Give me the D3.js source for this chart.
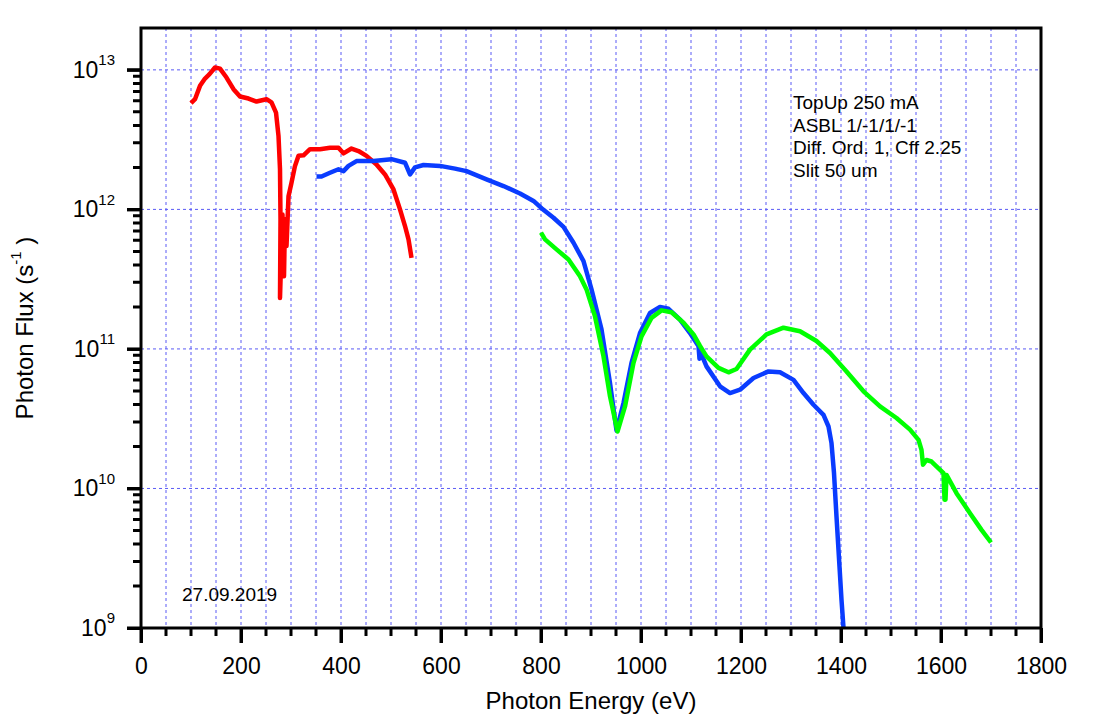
<!DOCTYPE html>
<html>
<head>
<meta charset="utf-8">
<script src="https://cdn.jsdelivr.net/npm/d3@7"></script>
<style>
  body { margin: 0; background: #fff; color: #000; }
  text { font-family: "Liberation Sans", Arial, sans-serif; fill: #000; }
</style>
</head>
<body>
<div id="chart"></div>
<script>
// photon energy (eV) and flux (1/s)
const redE = [100,108,118,128,137,148,158,171,185,198,215,231,251,261,270,275,278,279,278,283,286,288,291,295,301,308,315,325,338,358,378,395,405,421,435,451,471,488,505,518,528,535,541];
const redFlux = [5.77e12,6.16e12,7.68e12,8.67e12,9.31e12,1.04e13,1.02e13,8.81e12,7.27e12,6.44e12,6.23e12,5.93e12,6.16e12,5.84e12,4.94e12,3.36e12,1.94e12,8.47e11,2.32e11,9.2e11,3.32e11,8.5e11,5.46e11,1.24e12,1.55e12,2.05e12,2.42e12,2.44e12,2.7e12,2.7e12,2.77e12,2.77e12,2.52e12,2.73e12,2.62e12,2.42e12,2.1e12,1.78e12,1.39e12,1.0e12,7.6e11,6.1e11,4.5e11];

const blueE = [351,361,378,395,405,415,431,465,501,528,538,548,565,598,628,651,691,725,758,785,801,825,845,865,885,901,921,938,951,965,981,998,1018,1038,1055,1078,1098,1111,1115,1117,1119,1131,1158,1178,1198,1225,1255,1278,1305,1325,1345,1365,1375,1381,1386,1391,1397,1401,1405];
const blueFlux = [1.72e12,1.72e12,1.83e12,1.94e12,1.88e12,2.05e12,2.22e12,2.22e12,2.29e12,2.16e12,1.78e12,2.0e12,2.08e12,2.05e12,1.96e12,1.88e12,1.64e12,1.47e12,1.30e12,1.15e12,1.02e12,8.71e11,7.5e11,5.77e11,4.26e11,2.67e11,1.38e11,5.7e10,2.6e10,4.1e10,7.94e10,1.3e11,1.81e11,2.0e11,1.94e11,1.62e11,1.3e11,1.1e11,1.05e11,8.5e10,9.5e10,7.5e10,5.4e10,4.83e10,5.1e10,6.19e10,6.9e10,6.8e10,6.0e10,4.83e10,3.98e10,3.37e10,2.78e10,2.11e10,1.29e10,6.29e9,2.75e9,1.59e9,1.0e9];

const greenE = [800,808,831,855,878,891,908,925,938,953,968,985,1001,1021,1041,1061,1085,1105,1118,1131,1155,1175,1191,1218,1251,1285,1318,1351,1378,1411,1445,1478,1511,1538,1555,1561,1564,1571,1581,1605,1607,1609,1611,1631,1658,1681,1700];
const greenFlux = [6.81e11,6.1e11,5.17e11,4.38e11,3.32e11,2.67e11,1.71e11,8.85e10,4.57e10,2.56e10,3.87e10,7.94e10,1.23e11,1.67e11,1.89e11,1.83e11,1.54e11,1.27e11,1.05e11,8.85e10,7.31e10,6.8e10,7.18e10,9.88e10,1.27e11,1.42e11,1.34e11,1.14e11,9.35e10,6.9e10,4.97e10,3.87e10,3.2e10,2.64e10,2.23e10,1.89e10,1.48e10,1.6e10,1.56e10,1.29e10,8.3e9,8.3e9,1.25e10,9.25e9,6.65e9,5.05e9,4.1e9];

const xMajorTicks = [0,200,400,600,800,1000,1200,1400,1600,1800];
const yDecades = [1e9,1e10,1e11,1e12,1e13];
const notes = ["TopUp 250 mA", "ASBL 1/-1/1/-1", "Diff. Ord. 1, Cff 2.25", "Slit 50 um"];
const dateLabel = "27.09.2019";

const W = 1101, H = 716;
const margin = { top: 28, right: 60, bottom: 88, left: 141 };
const width = W - margin.left - margin.right;
const height = H - margin.top - margin.bottom;

const svg = d3.select("#chart").append("svg")
  .attr("width", W)
  .attr("height", H);

const g = svg.append("g")
  .attr("transform", `translate(${margin.left},${margin.top})`);

// scales
const yTop = Math.pow(10, 13.3);
const x = d3.scaleLinear().domain([0, 1800]).range([0, width]);
const y = d3.scaleLog().domain([1e9, yTop]).range([height, 0]);

// grid
const gridColor = "#5a5af5";
const xGrid = d3.range(50, 1800, 50);
g.append("g").selectAll("line")
  .data(xGrid)
  .enter().append("line")
  .attr("x1", d => x(d)).attr("x2", d => x(d))
  .attr("y1", 0).attr("y2", height)
  .attr("stroke", gridColor).attr("stroke-width", 1)
  .attr("stroke-dasharray", "3,3");
g.append("g").selectAll("line")
  .data(yDecades.slice(1))
  .enter().append("line")
  .attr("x1", 0).attr("x2", width)
  .attr("y1", d => y(d)).attr("y2", d => y(d))
  .attr("stroke", gridColor).attr("stroke-width", 1)
  .attr("stroke-dasharray", "3,3");

// data lines
const line = d3.line()
  .x(d => x(d[0]))
  .y(d => y(d[1]));

const series = [
  { e: redE, f: redFlux, color: "#ff0000" },
  { e: blueE, f: blueFlux, color: "#0a3cff" },
  { e: greenE, f: greenFlux, color: "#00ff00" }
];
series.forEach(s => {
  g.append("path")
    .datum(d3.zip(s.e, s.f))
    .attr("d", line)
    .attr("fill", "none")
    .attr("stroke", s.color)
    .attr("stroke-width", 4.5)
    .attr("stroke-linejoin", "round");
});

// axis labels
g.append("g")
  .attr("transform", `translate(0,${height})`)
  .call(d3.axisBottom(x).tickValues(xMajorTicks).tickSize(15).tickPadding(15).tickFormat(d3.format("d")))
  .call(a => a.select(".domain").remove())
  .call(a => a.selectAll(".tick line").attr("stroke", "#000").attr("stroke-width", 3))
  .call(a => a.selectAll("text").attr("font-size", 23).attr("font-family", "Liberation Sans, Arial, sans-serif"));

const yAxis = g.append("g")
  .call(d3.axisLeft(y).tickValues(yDecades).tickSize(14).tickPadding(12).tickFormat(() => "10"))
  .call(a => a.select(".domain").remove())
  .call(a => a.selectAll(".tick line").attr("stroke", "#000").attr("stroke-width", 3));
yAxis.selectAll("text")
  .attr("font-size", 23)
  .attr("font-family", "Liberation Sans, Arial, sans-serif")
  .append("tspan")
  .attr("font-size", 15)
  .attr("dy", "-0.85em")
  .text(d => Math.round(Math.log10(d)));

// frame and all tick marks in one path, built from the scales
const xMinor = d3.range(0, 1801, 50).filter(d => d % 200 !== 0);
const yMinor = [];
yDecades.forEach(d => {
  for (let k = 2; k <= 9; k++) if (d * k < yTop) yMinor.push(d * k);
});
const frame = d3.path();
frame.rect(0, 0, width, height);
xMinor.forEach(v => { frame.moveTo(x(v), height); frame.lineTo(x(v), height + 8); });
xMajorTicks.forEach(v => { frame.moveTo(x(v), height); frame.lineTo(x(v), height + 15); });
yMinor.forEach(v => { frame.moveTo(0, y(v)); frame.lineTo(-8, y(v)); });
yDecades.forEach(v => { frame.moveTo(0, y(v)); frame.lineTo(-14, y(v)); });
g.append("path")
  .attr("d", frame.toString())
  .attr("fill", "none")
  .attr("stroke", "#000")
  .attr("stroke-width", 3);

// axis titles
svg.append("text")
  .attr("x", margin.left + width / 2)
  .attr("y", 709)
  .attr("text-anchor", "middle")
  .attr("font-size", 24)
  .text("Photon Energy (eV)");

const yTitle = svg.append("text")
  .attr("transform", `translate(33,${margin.top + height / 2}) rotate(-90)`)
  .attr("text-anchor", "middle")
  .attr("font-size", 24);
yTitle.append("tspan").text("Photon Flux (s");
yTitle.append("tspan").attr("font-size", 15).attr("dy", "-0.8em").text("-1");
yTitle.append("tspan").attr("dy", "0.5em").text(" )");

// annotations
svg.append("g").selectAll("text")
  .data(notes)
  .enter().append("text")
  .attr("x", 793)
  .attr("y", (d, i) => 109 + i * 22.7)
  .attr("font-size", 19)
  .text(d => d);

svg.append("text")
  .attr("x", 182)
  .attr("y", 601)
  .attr("font-size", 19)
  .text(dateLabel);
</script>
</body>
</html>
